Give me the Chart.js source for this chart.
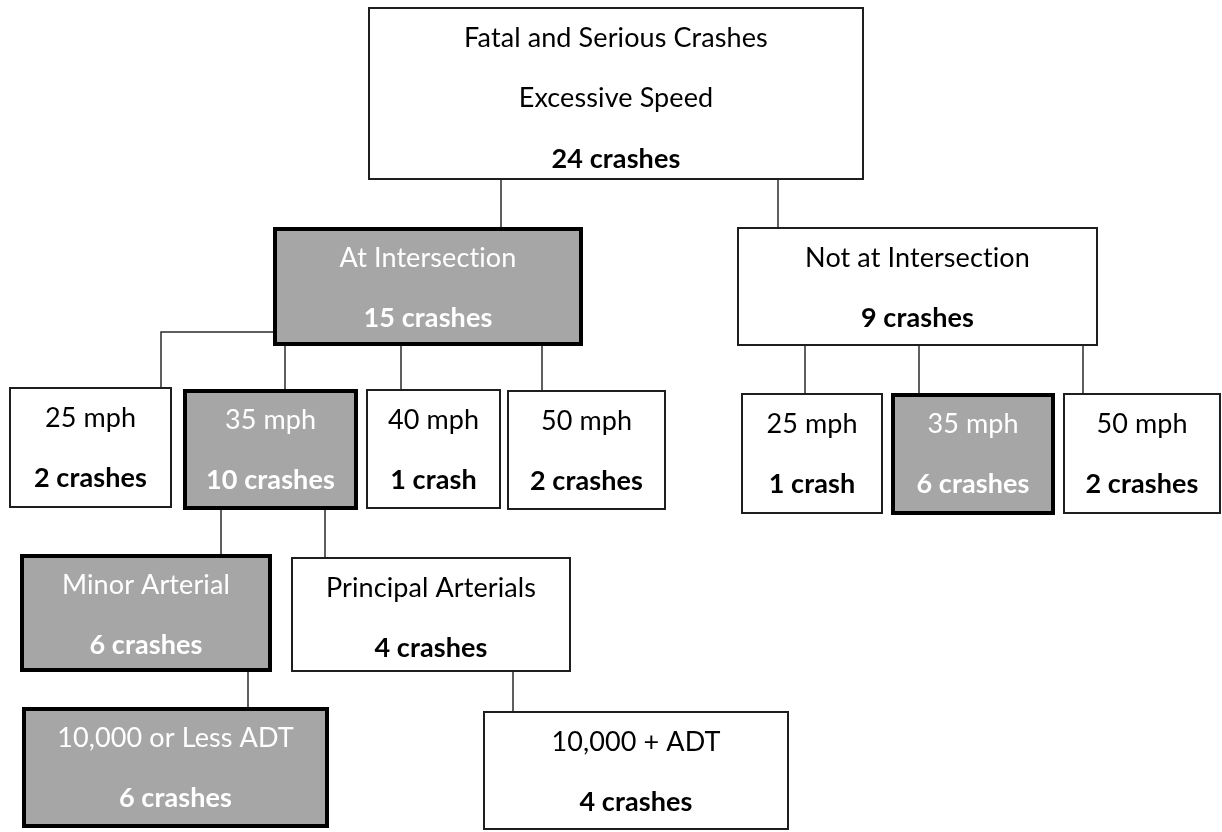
<!DOCTYPE html>
<html>
<head>
<meta charset="utf-8">
<script src="https://cdn.jsdelivr.net/npm/chart.js@4/dist/chart.umd.min.js"></script>
<style>
  body { margin: 0; background: #fff; }
  #wrap { width: 1222px; height: 832px; }
  canvas { font-variant-ligatures: none; }
</style>
</head>
<body>
<div id="wrap"><canvas id="treeChart" width="1222" height="832"></canvas></div>
<script>
// Tree data: node names and crash counts
const nodeNames = [
    'Fatal and Serious Crashes\nExcessive Speed',
    'At Intersection',
    'Not at Intersection',
    '25 mph', '35 mph', '40 mph', '50 mph',
    '25 mph', '35 mph', '50 mph',
    'Minor Arterial', 'Principal Arterials',
    '10,000 or Less ADT', '10,000 + ADT'
];
const nodeCounts = [24, 15, 9, 2, 10, 1, 2, 1, 6, 2, 6, 4, 6, 4];
const nodeParents = [null, 0, 0, 1, 1, 1, 1, 2, 2, 2, 4, 4, 10, 11];

// Highlighted path (grey boxes)
const highlighted = [1, 4, 8, 10, 12];

// Layout: box rectangles [left, top, right, bottom] in page units
const boxRects = [
    [368, 7, 864, 180],
    [273, 227, 583, 346],
    [737, 227, 1098, 346],
    [9, 387, 172, 508],
    [183, 389, 358, 510],
    [366, 389, 501, 509],
    [507, 390, 666, 510],
    [741, 393, 883, 514],
    [891, 393, 1055, 515],
    [1063, 393, 1221, 514],
    [20, 554, 272, 672],
    [291, 557, 571, 672],
    [22, 707, 329, 828],
    [483, 711, 789, 830]
];

// Connector paths from parent to child (same order as nodes, root has none)
const connectorPaths = [
    null,
    [[501, 180], [501, 227]],
    [[778, 180], [778, 227]],
    [[273, 332], [161, 332], [161, 387]],
    [[285, 346], [285, 389]],
    [[401, 346], [401, 389]],
    [[542, 346], [542, 390]],
    [[805, 346], [805, 393]],
    [[919, 346], [919, 393]],
    [[1083, 346], [1083, 393]],
    [[221, 510], [221, 554]],
    [[325, 510], [325, 557]],
    [[248, 672], [248, 707]],
    [[513, 672], [513, 711]]
];

const FONT_FAMILY = 'Lato, "Open Sans", sans-serif';
let fontSize = 29;

function fitFontSize() {
    const ctx = document.createElement('canvas').getContext('2d');
    ctx.font = '100px ' + FONT_FAMILY;
    const w = ctx.measureText('Fatal and Serious Crashes').width;
    fontSize = Math.round(301 / w * 1000) / 10;
}

function countLabel(n) {
    return n + (n === 1 ? ' crash' : ' crashes');
}

// Plugin that draws the boxes and their texts
const treeBoxesPlugin = {
    id: 'treeBoxes',
    afterDatasetsDraw(chart) {
        const ctx = chart.ctx;
        const xs = chart.scales.x;
        const ys = chart.scales.y;
        ctx.save();
        if ('fontVariantLigatures' in ctx) ctx.fontVariantLigatures = 'none';
        ctx.letterSpacing = '0.1px';
        nodeNames.forEach((name, i) => {
            const r = boxRects[i];
            const x1 = xs.getPixelForValue(r[0]);
            const x2 = xs.getPixelForValue(r[2]);
            const y1 = ys.getPixelForValue(r[1]);
            const y2 = ys.getPixelForValue(r[3]);
            const grey = highlighted.includes(i);
            const lw = grey ? 4 : 2;

            ctx.fillStyle = grey ? '#a6a6a6' : '#ffffff';
            ctx.fillRect(x1, y1, x2 - x1, y2 - y1);
            ctx.lineWidth = lw;
            ctx.strokeStyle = grey ? '#000000' : '#1e1e1e';
            ctx.strokeRect(x1 + lw / 2, y1 + lw / 2, x2 - x1 - lw, y2 - y1 - lw);

            const lines = name.split('\n');
            const cx = (x1 + x2) / 2;
            ctx.textAlign = 'center';
            ctx.textBaseline = 'middle';
            ctx.fillStyle = grey ? '#ffffff' : '#000000';
            lines.forEach((line, k) => {
                ctx.font = fontSize + 'px ' + FONT_FAMILY;
                ctx.fillText(line, cx, y1 + 31 + k * 60.5);
            });
            ctx.font = 'bold ' + fontSize + 'px ' + FONT_FAMILY;
            ctx.fillText(countLabel(nodeCounts[i]), cx, y1 + 31 + lines.length * 60.5);
        });
        ctx.restore();
    }
};

function buildConnectorDatasets() {
    const sets = [];
    connectorPaths.forEach((path, i) => {
        if (!path || nodeParents[i] === null) return;
        sets.push({
            data: path.map(p => ({ x: p[0], y: p[1] })),
            showLine: true,
            borderColor: '#2b2b2b',
            borderWidth: 1.5,
            pointRadius: 0,
            fill: false,
            tension: 0
        });
    });
    return sets;
}

document.fonts.ready.then(() => {
    fitFontSize();
    new Chart(document.getElementById('treeChart'), {
        type: 'scatter',
        data: { datasets: buildConnectorDatasets() },
        options: {
            responsive: false,
            devicePixelRatio: 1,
            animation: false,
            layout: { padding: 0 },
            plugins: { legend: { display: false }, tooltip: { enabled: false } },
            scales: {
                x: { type: 'linear', min: 0, max: 1222, display: false },
                y: { type: 'linear', min: 0, max: 832, reverse: true, display: false }
            }
        },
        plugins: [treeBoxesPlugin]
    });
});
</script>
</body>
</html>
